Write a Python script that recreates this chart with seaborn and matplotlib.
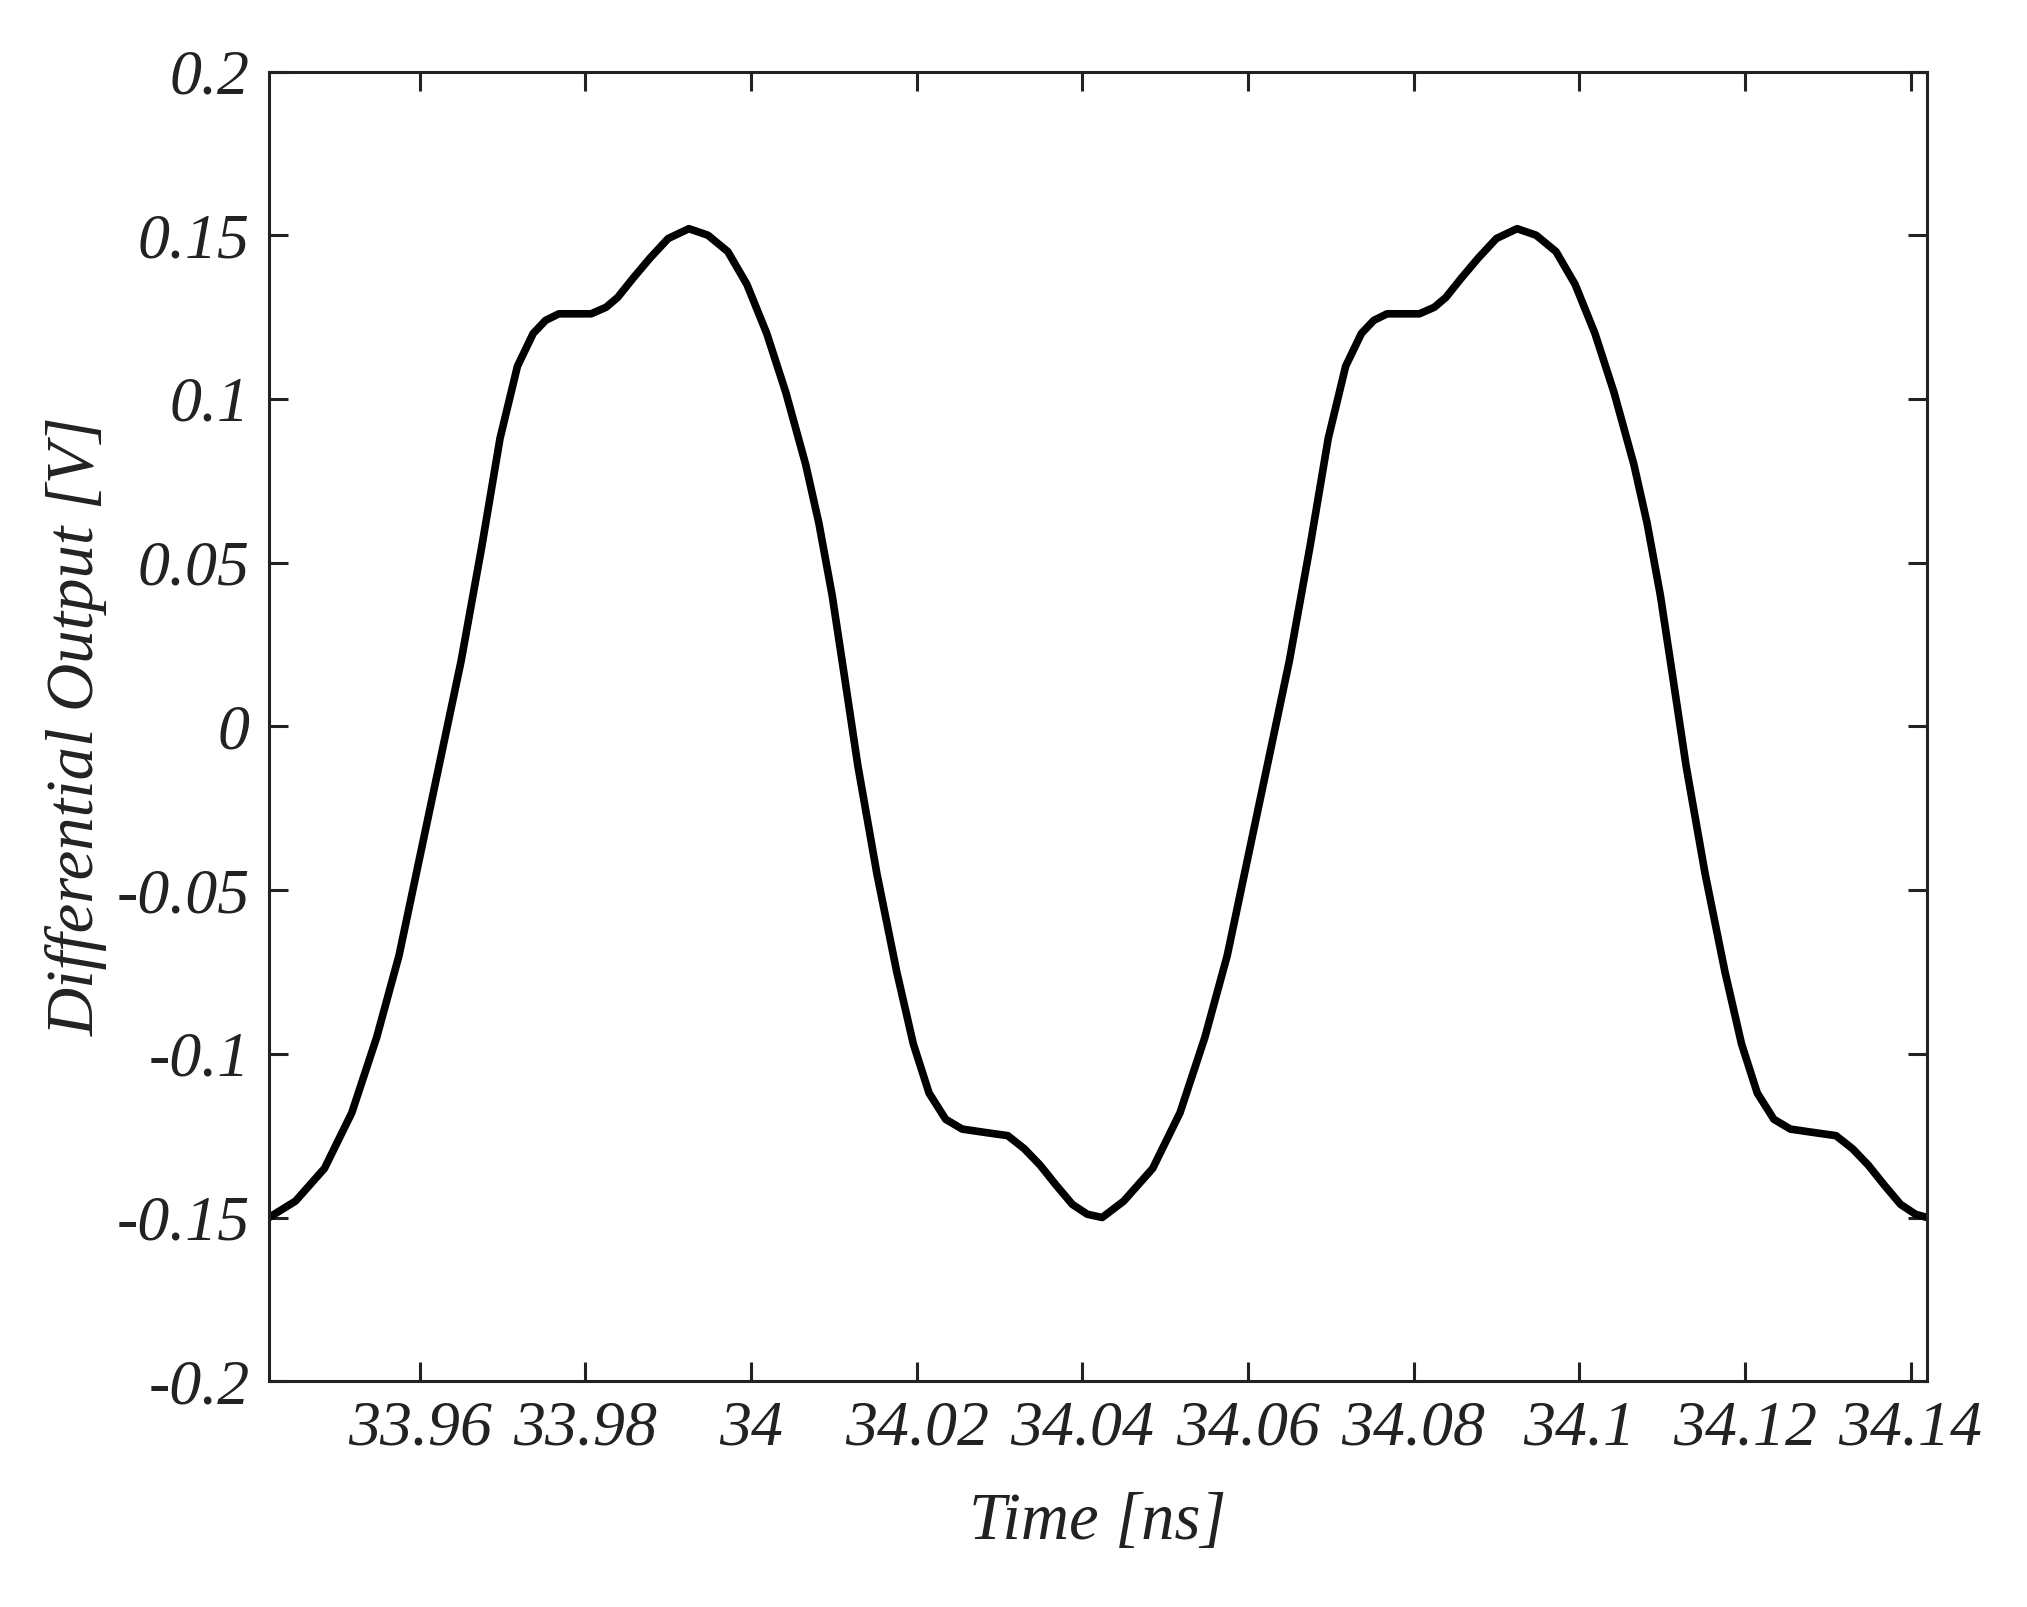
import matplotlib
matplotlib.use("Agg")
import matplotlib.pyplot as plt
import seaborn as sns
import pandas as pd

time_ns = [33.9418, 33.9450, 33.9485, 33.9518, 33.9548, 33.9575, 33.9600, 33.9625, 33.9650, 33.9675,
           33.9697, 33.9718, 33.9737, 33.9752, 33.9768, 33.9790, 33.9807, 33.9825, 33.9839, 33.9858,
           33.9878, 33.9900, 33.9925, 33.9948, 33.9972, 33.9995, 34.0019, 34.0042, 34.0066, 34.0082,
           34.0098, 34.0113, 34.0129, 34.0152, 34.0176, 34.0196, 34.0215, 34.0235, 34.0255, 34.0282,
           34.0310, 34.0330, 34.0349, 34.0368, 34.0388, 34.0406, 34.0424,
           34.0450, 34.0485, 34.0518, 34.0548, 34.0575, 34.0600, 34.0625, 34.0650, 34.0675,
           34.0697, 34.0718, 34.0737, 34.0752, 34.0768, 34.0790, 34.0807, 34.0825, 34.0839, 34.0858,
           34.0878, 34.0900, 34.0925, 34.0948, 34.0972, 34.0995, 34.1019, 34.1042, 34.1066, 34.1082,
           34.1098, 34.1113, 34.1129, 34.1152, 34.1176, 34.1196, 34.1215, 34.1235, 34.1255, 34.1282,
           34.1310, 34.1330, 34.1349, 34.1368, 34.1388, 34.1406, 34.1420]
output_v = [-0.150, -0.145, -0.135, -0.118, -0.095, -0.070, -0.040, -0.010, 0.020, 0.055,
            0.088, 0.110, 0.120, 0.124, 0.126, 0.126, 0.126, 0.128, 0.131, 0.137,
            0.143, 0.149, 0.152, 0.150, 0.145, 0.135, 0.120, 0.102, 0.080, 0.062,
            0.040, 0.015, -0.012, -0.045, -0.075, -0.097, -0.112, -0.120, -0.123, -0.124,
            -0.125, -0.129, -0.134, -0.140, -0.146, -0.149, -0.150,
            -0.145, -0.135, -0.118, -0.095, -0.070, -0.040, -0.010, 0.020, 0.055,
            0.088, 0.110, 0.120, 0.124, 0.126, 0.126, 0.126, 0.128, 0.131, 0.137,
            0.143, 0.149, 0.152, 0.150, 0.145, 0.135, 0.120, 0.102, 0.080, 0.062,
            0.040, 0.015, -0.012, -0.045, -0.075, -0.097, -0.112, -0.120, -0.123, -0.124,
            -0.125, -0.129, -0.134, -0.140, -0.146, -0.149, -0.150]
x_ticks = [33.96, 33.98, 34.0, 34.02, 34.04, 34.06, 34.08, 34.1, 34.12, 34.14]
x_tick_labels = ["33.96", "33.98", "34", "34.02", "34.04", "34.06", "34.08", "34.1", "34.12", "34.14"]
y_ticks = [-0.2, -0.15, -0.1, -0.05, 0, 0.05, 0.1, 0.15, 0.2]
y_tick_labels = ["-0.2", "-0.15", "-0.1", "-0.05", "0", "0.05", "0.1", "0.15", "0.2"]

sns.set_theme(style="ticks")
plt.rcParams['font.family'] = ['Liberation Serif', 'DejaVu Serif']
plt.rcParams['font.style'] = 'italic'

fig = plt.figure(figsize=(20.27, 16.07), dpi=100)
ax = fig.add_axes([0.1327, 0.1405, 0.818, 0.815])
df = pd.DataFrame({"t": time_ns, "v": output_v})
sns.lineplot(data=df, x="t", y="v", ax=ax, color="black", linewidth=5.5, sort=False)
ax.set_xlim(33.9418, 34.142)
ax.set_ylim(-0.2, 0.2)
ax.set_xticks(x_ticks)
ax.set_xticklabels(x_tick_labels, fontsize=46, style='italic')
ax.set_yticks(y_ticks)
ax.set_yticklabels(y_tick_labels, fontsize=46, style='italic')
ax.tick_params(direction='in', length=14, width=2.2, top=True, right=True, colors='#222222', pad=14)
for s in ax.spines.values():
    s.set_linewidth(2.2)
    s.set_color('#222222')
ax.set_xlabel("Time [ns]", fontsize=48, style='italic', color='#222222', labelpad=24)
ax.set_ylabel("Differential Output [V]", fontsize=48, style='italic', color='#222222', labelpad=6)
fig.savefig("out.png", dpi=100)
